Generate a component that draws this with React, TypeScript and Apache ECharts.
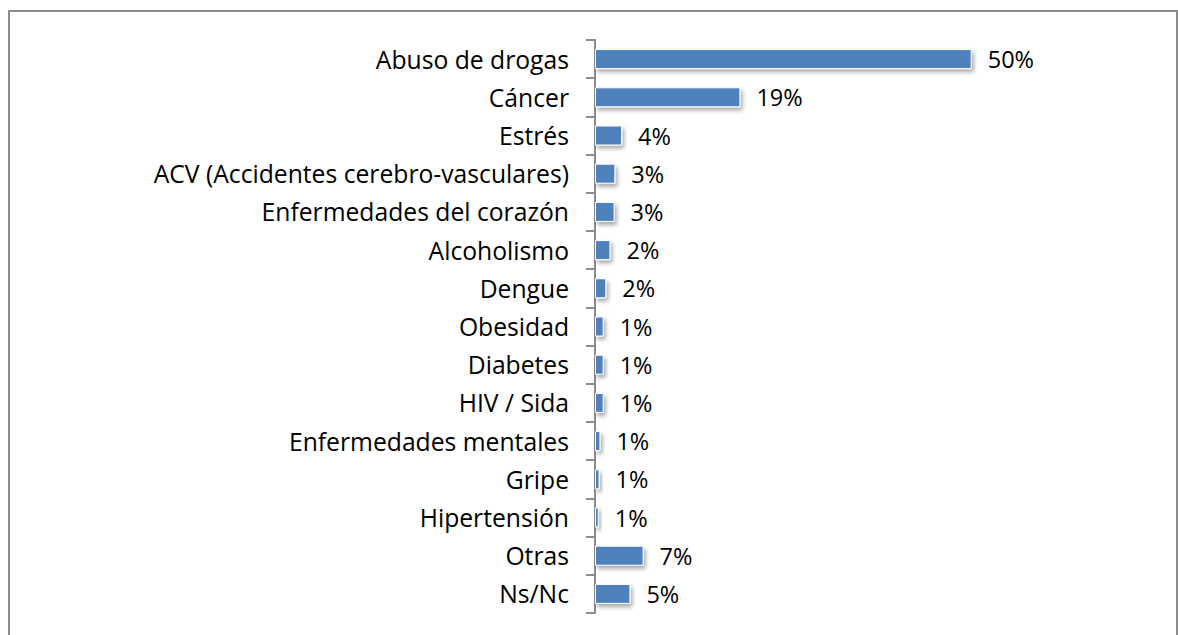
import React, { useEffect, useRef } from "react";
import * as echarts from "echarts";

const categories = [
  "Abuso de drogas",
  "Cáncer",
  "Estrés",
  "ACV (Accidentes cerebro-vasculares)",
  "Enfermedades del corazón",
  "Alcoholismo",
  "Dengue",
  "Obesidad",
  "Diabetes",
  "HIV / Sida",
  "Enfermedades mentales",
  "Gripe",
  "Hipertensión",
  "Otras",
  "Ns/Nc",
];
const values = [50, 19.3, 3.6, 2.7, 2.6, 2.05, 1.5, 1.15, 1.15, 1.15, 0.72, 0.6, 0.5, 6.45, 4.7];
const labels = ["50%", "19%", "4%", "3%", "3%", "2%", "2%", "1%", "1%", "1%", "1%", "1%", "1%", "7%", "5%"];

export default function App() {
  const ref = useRef<HTMLDivElement>(null);
  useEffect(() => {
    if (!ref.current) return;
    const chart = echarts.init(ref.current, null, { renderer: "svg" });
    const font = "'Open Sans'";
    chart.setOption({
      animation: false,
      graphic: [
        {
          type: "rect",
          shape: { x: 9, y: 11, width: 1168, height: 700 },
          style: { fill: "none", stroke: "#8c8c8c", lineWidth: 2 },
          silent: true,
        },
      ],
      grid: { left: 595, right: 206.3, top: 40, bottom: 22, containLabel: false },
      xAxis: {
        type: "value",
        min: 0,
        max: 50,
        show: false,
      },
      yAxis: {
        type: "category",
        data: categories,
        inverse: true,
        axisLine: { show: true, lineStyle: { color: "#8c8c8c", width: 2 } },
        axisTick: { show: true, length: 9, lineStyle: { color: "#8c8c8c", width: 2 } },
        axisLabel: { color: "#000", fontFamily: font, fontSize: 24.7, margin: 26 },
        splitLine: { show: false },
      },
      series: [
        {
          type: "bar",
          data: values,
          barWidth: 20,
          itemStyle: {
            color: "#4F81BD",
            borderColor: "#ffffff",
            borderWidth: 1,
            shadowColor: "rgba(0,0,0,0.35)",
            shadowBlur: 4,
            shadowOffsetX: 2,
            shadowOffsetY: 3,
          },
          label: {
            show: true,
            position: "right",
            distance: 16,
            color: "#000",
            fontFamily: font,
            fontSize: 23.5,
            formatter: (p: any) => labels[p.dataIndex],
          },
        },
      ],
    });
    return () => chart.dispose();
  }, []);
  return (
    <div
      ref={ref}
      style={{ position: "fixed", left: 0, top: 0, width: 1178, height: 635, background: "#fff" }}
    />
  );
}
